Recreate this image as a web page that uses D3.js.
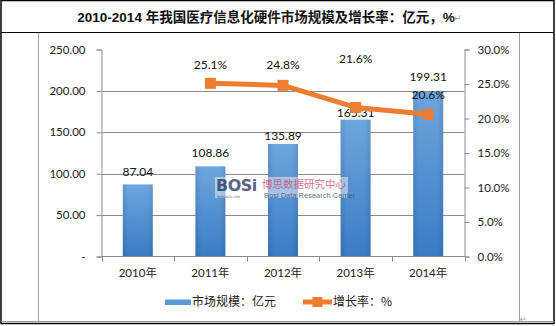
<!DOCTYPE html>
<html>
<head>
<meta charset="utf-8">
<script src="https://cdn.jsdelivr.net/npm/d3@7"></script>
<style>
  html, body { margin: 0; padding: 0; background: #fff; }
  svg { display: block; }
</style>
</head>
<body>
<script>
// Market size of medical IT hardware (100M CNY) and growth rate, 2010-2014
const years = ["2010年", "2011年", "2012年", "2013年", "2014年"];
const marketSize = [87.04, 108.86, 135.89, 165.31, 199.31];
const growthRate = [null, 25.1, 24.8, 21.6, 20.6];
const leftTicks = [0, 50, 100, 150, 200, 250];
const rightTicks = [0, 5, 10, 15, 20, 25, 30];
const titleText = "2010-2014 年我国医疗信息化硬件市场规模及增长率：亿元，%";
const legendBar = "市场规模：亿元";
const legendLine = "增长率：%";

// vertical offsets of the value labels relative to their marks
const rateLabelDy = [0, -18, -20, -48, -19];
const sizeLabelDy = [-12, -13, -8, -7, -14];

const W = 556, H = 326;
const plot = { left: 101.5, right: 464.5, top: 49.5, bottom: 256.5 };
const latin = "Lato, 'Liberation Sans', sans-serif";
const cjk = "'Noto Sans CJK SC', 'Noto Sans', sans-serif";
const gridColor = "#8c8c8c";
const orange = "#ED7D31";

const svg = d3.select("body").append("svg").attr("width", W).attr("height", H);

// bar fill gradient
const defs = svg.append("defs");
const grad = defs.append("linearGradient").attr("id", "barGrad")
  .attr("x1", 0).attr("y1", 0).attr("x2", 0).attr("y2", 1);
grad.append("stop").attr("offset", "0%").attr("stop-color", "#6ea6de");
grad.append("stop").attr("offset", "100%").attr("stop-color", "#3a7cc4");
const gradH = defs.append("linearGradient").attr("id", "barEdge")
  .attr("x1", 0).attr("y1", 0).attr("x2", 1).attr("y2", 0);
gradH.append("stop").attr("offset", "0%").attr("stop-color", "#000").attr("stop-opacity", 0.10);
gradH.append("stop").attr("offset", "20%").attr("stop-color", "#000").attr("stop-opacity", 0);
gradH.append("stop").attr("offset", "80%").attr("stop-color", "#000").attr("stop-opacity", 0);
gradH.append("stop").attr("offset", "100%").attr("stop-color", "#000").attr("stop-opacity", 0.10);

// frame: outer table border, title divider, chart box
svg.append("rect").attr("x", 1).attr("y", 0.5).attr("width", 553).attr("height", 323)
  .attr("fill", "none").attr("stroke", "#000").attr("stroke-width", 1.5);
svg.append("line").attr("x1", 1).attr("x2", 554).attr("y1", 32.5).attr("y2", 32.5)
  .attr("stroke", "#000").attr("stroke-width", 1.2);
svg.append("line").attr("x1", 1).attr("x2", 554).attr("y1", 321.5).attr("y2", 321.5)
  .attr("stroke", "#999").attr("stroke-width", 1);
svg.append("line").attr("x1", 38.5).attr("x2", 38.5).attr("y1", 33).attr("y2", 321.5)
  .attr("stroke", "#a0a0a0").attr("stroke-width", 1);
svg.append("line").attr("x1", 519.5).attr("x2", 519.5).attr("y1", 33).attr("y2", 321.5)
  .attr("stroke", "#a0a0a0").attr("stroke-width", 1);

// title
const title = svg.append("text").attr("x", 266).attr("y", 22)
  .attr("text-anchor", "middle").attr("font-size", 13.5).attr("font-weight", "bold")
  .attr("font-family", cjk).attr("fill", "#111");
title.append("tspan").attr("font-family", "'Liberation Sans', Arial, sans-serif").text("2010-2014 ");
title.append("tspan").text(titleText.slice(10, -1));
title.append("tspan").attr("font-family", "'Liberation Sans', Arial, sans-serif").text("%");
svg.append("text").attr("x", 454).attr("y", 21).attr("font-size", 9)
  .attr("fill", "#999").attr("font-family", "'DejaVu Sans', sans-serif").text("↵");
svg.append("text").attr("x", 520).attr("y", 322).attr("font-size", 8)
  .attr("fill", "#999").attr("font-family", "'DejaVu Sans', sans-serif").text("↵");

// scales
const pad = 1 - 30 / ((plot.right - plot.left) / years.length);
const x = d3.scaleBand().domain(years).range([plot.left, plot.right])
  .paddingInner(pad).paddingOuter(pad / 2);
const yL = d3.scaleLinear().domain([0, 250]).range([plot.bottom, plot.top]);
const yR = d3.scaleLinear().domain([0, 30]).range([plot.bottom, plot.top]);
const cx = d => x(d) + x.bandwidth() / 2;

// gridlines (no line at the top value)
svg.append("g").selectAll("line").data(leftTicks.filter(v => v > 0 && v < 250)).join("line")
  .attr("x1", plot.left).attr("x2", plot.right)
  .attr("y1", d => Math.round(yL(d)) + 0.5).attr("y2", d => Math.round(yL(d)) + 0.5)
  .attr("stroke", gridColor).attr("stroke-width", 1);

// left axis
const axL = svg.append("g").attr("transform", `translate(${plot.left},0)`)
  .call(d3.axisLeft(yL).tickValues(leftTicks).tickSize(5).tickPadding(11)
    .tickFormat(d => d === 0 ? "-" : d3.format(".2f")(d)));
axL.select(".domain").attr("stroke", gridColor);
axL.selectAll(".tick line").attr("stroke", gridColor);
axL.selectAll(".tick text").attr("font-family", latin).attr("font-size", 11.5).attr("fill", "#222");

// right axis
const axR = svg.append("g").attr("transform", `translate(${plot.right},0)`)
  .call(d3.axisRight(yR).tickValues(rightTicks).tickSize(5).tickPadding(8)
    .tickFormat(d => d3.format(".1f")(d) + "%"));
axR.select(".domain").attr("stroke", gridColor);
axR.selectAll(".tick line").attr("stroke", gridColor);
axR.selectAll(".tick text").attr("font-family", latin).attr("font-size", 11.5).attr("fill", "#222");

// bars
const bars = svg.append("g");
bars.selectAll("rect.bar").data(marketSize).join("rect").attr("class", "bar")
  .attr("x", (d, i) => x(years[i])).attr("width", x.bandwidth())
  .attr("y", d => yL(d)).attr("height", d => yL(0) - yL(d))
  .attr("fill", "url(#barGrad)");
bars.selectAll("rect.edge").data(marketSize).join("rect").attr("class", "edge")
  .attr("x", (d, i) => x(years[i])).attr("width", x.bandwidth())
  .attr("y", d => yL(d)).attr("height", d => yL(0) - yL(d))
  .attr("fill", "url(#barEdge)");

// bottom axis with boundary ticks
const bx = d3.scaleLinear().domain([0, years.length]).range([plot.left, plot.right]);
const axB = svg.append("g").attr("transform", `translate(0,${plot.bottom})`);
axB.append("line").attr("x1", plot.left).attr("x2", plot.right)
  .attr("stroke", gridColor);
axB.selectAll("line.tk").data(d3.range(years.length + 1)).join("line").attr("class", "tk")
  .attr("x1", d => Math.round(bx(d)) + 0.5).attr("x2", d => Math.round(bx(d)) + 0.5)
  .attr("y1", 0).attr("y2", 5).attr("stroke", gridColor);
axB.selectAll("text").data(years).join("text")
  .attr("x", d => cx(d)).attr("y", 20).attr("text-anchor", "middle")
  .attr("font-family", latin).attr("font-size", 11.5).attr("fill", "#222")
  .each(function(d) {
    const t = d3.select(this);
    t.append("tspan").text(d.slice(0, 4));
    t.append("tspan").attr("font-family", cjk).text(d.slice(4));
  });

// bar value labels
svg.append("g").selectAll("text").data(marketSize).join("text")
  .attr("x", (d, i) => cx(years[i])).attr("y", (d, i) => yL(d) + sizeLabelDy[i] + 4)
  .attr("text-anchor", "middle").attr("font-family", latin).attr("font-size", 12)
  .attr("fill", "#111").text(d => d3.format(".2f")(d));

// watermark
const wm = svg.append("g").attr("opacity", 0.85);
wm.append("rect").attr("x", 215).attr("y", 177).attr("width", 133).attr("height", 21)
  .attr("fill", "#fff").attr("opacity", 0.55);
wm.append("text").attr("x", 216).attr("y", 191).attr("font-family", "'DejaVu Sans', sans-serif")
  .attr("font-weight", "bold").attr("font-size", 16).attr("fill", "#3b4a6b")
  .attr("letter-spacing", -0.5).text("BOSi");
wm.append("text").attr("x", 217).attr("y", 198).attr("font-family", "'DejaVu Sans', sans-serif")
  .attr("font-size", 3).attr("fill", "#555").text("BOSIDATA.COM");
wm.append("text").attr("x", 262).attr("y", 188).attr("font-family", cjk)
  .attr("font-size", 10.5).attr("fill", "#d8577e").text("博思数据研究中心");
wm.append("text").attr("x", 264).attr("y", 197.5).attr("font-family", "'Liberation Sans Narrow', 'Liberation Sans', sans-serif")
  .attr("font-size", 7.5).attr("fill", "#4a5a7a").text("Bosi Data Research Center");

// growth rate line
const pts = growthRate.map((v, i) => ({ v, i })).filter(d => d.v != null);
const line = d3.line().x(d => cx(years[d.i])).y(d => yR(d.v));
svg.append("path").datum(pts).attr("d", line).attr("fill", "none")
  .attr("stroke", orange).attr("stroke-width", 5).attr("stroke-linejoin", "round");
svg.append("g").selectAll("rect").data(pts).join("rect")
  .attr("x", d => cx(years[d.i]) - 5.5).attr("y", d => yR(d.v) - 5.5)
  .attr("width", 11).attr("height", 11).attr("fill", orange);
svg.append("g").selectAll("text").data(pts).join("text")
  .attr("x", d => cx(years[d.i])).attr("y", d => yR(d.v) + rateLabelDy[d.i] + 4)
  .attr("text-anchor", "middle").attr("font-family", latin).attr("font-size", 12)
  .attr("fill", "#111").text(d => d3.format(".1f")(d.v) + "%");

// legend
const lg = svg.append("g");
lg.append("rect").attr("x", 165).attr("y", 299.5).attr("width", 26).attr("height", 5.5)
  .attr("fill", "#5b9bd5");
lg.append("text").attr("x", 192).attr("y", 306).attr("font-family", cjk)
  .attr("font-size", 12).attr("fill", "#222").text(legendBar);
lg.append("line").attr("x1", 303).attr("x2", 332).attr("y1", 302).attr("y2", 302)
  .attr("stroke", orange).attr("stroke-width", 5);
lg.append("rect").attr("x", 312.5).attr("y", 297).attr("width", 10).attr("height", 10)
  .attr("fill", orange);
lg.append("text").attr("x", 333).attr("y", 306).attr("font-family", cjk)
  .attr("font-size", 12).attr("fill", "#222").text(legendLine);
</script>
</body>
</html>
